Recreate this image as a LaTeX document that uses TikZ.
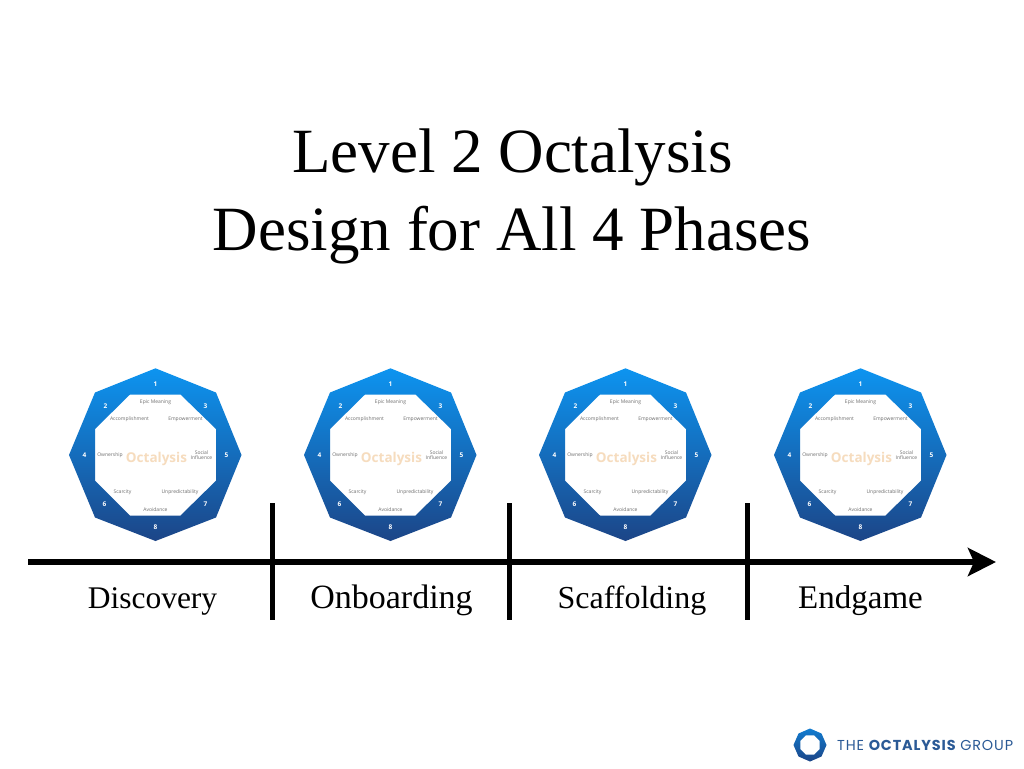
\documentclass[tikz,border=0pt]{standalone}
\usepackage{fontspec}
\setmainfont{Liberation Serif}
\newfontfamily\lblfont{Open Sans}
\newfontfamily\logofont[LetterSpace=6]{Poppins}
\usetikzlibrary{arrows.meta}
\definecolor{octtop}{HTML}{0D94F0}
\definecolor{octbot}{HTML}{1C4587}
\definecolor{lblgray}{HTML}{6E6E6E}
\definecolor{octname}{HTML}{F6DCBE}
\definecolor{logoblue}{HTML}{2B5A96}
\tikzset{
  titletext/.style={font=\fontsize{63}{63}\selectfont,anchor=base,inner sep=0pt},
  phasetext/.style={anchor=base,inner sep=0pt},
  numtext/.style={font=\lblfont\bfseries\fontsize{6.5}{7}\selectfont,text=white,inner sep=0pt},
  coretext/.style={font=\lblfont\fontsize{5}{5.6}\selectfont,text=lblgray,inner sep=0pt,align=center},
  octname/.style={font=\lblfont\bfseries\fontsize{13.5}{14}\selectfont,text=octname,inner sep=0pt},
  axisline/.style={line width=6.5pt,black},
  tickline/.style={line width=5pt,black},
}
\newcommand{\octagram}[2]{%
  \begin{scope}[shift={(#1,455)}]
    \shade[even odd rule,top color=octtop,bottom color=octbot]
      (0,-86.7) -- (60.5,-62.5) -- (86,0) -- (60.5,62.5) -- (0,86) -- (-60.5,62.5) -- (-86.5,0) -- (-60.5,-62.5) -- cycle
      (-25.5,-60.5) -- (25,-60.5) -- (60.5,-26) -- (60.5,25.7) -- (25,60.5) -- (-25.5,60.5) -- (-60.5,25.7) -- (-60.5,-26) -- cycle;
    \node[numtext] (#2n1) at (0,-71) {1};
    \node[numtext] (#2n2) at (-50,-49) {2};
    \node[numtext] (#2n3) at (50,-49) {3};
    \node[numtext] (#2n4) at (-71,0) {4};
    \node[numtext] (#2n5) at (71,0) {5};
    \node[numtext] (#2n6) at (-51,49) {6};
    \node[numtext] (#2n7) at (50,49) {7};
    \node[numtext] (#2n8) at (0,72) {8};
    \node[coretext] (#2a) at (0,-53) {Epic Meaning};
    \node[coretext] (#2b) at (-26,-36) {Accomplishment};
    \node[coretext] (#2c) at (30,-36) {Empowerment};
    \node[coretext] (#2d) at (-45.5,0) {Ownership};
    \node[coretext] (#2e) at (46,0) {Social\\Influence};
    \node[coretext] (#2f) at (-33,37) {Scarcity};
    \node[coretext] (#2g) at (24.5,37) {Unpredictability};
    \node[coretext] (#2h) at (0,55) {Avoidance};
    \node[octname] (#2o) at (1,3.5) {Octalysis};
  \end{scope}}
\begin{document}
\begin{tikzpicture}[x=1pt,y=-1pt]
\useasboundingbox (0,0) rectangle (1024,768);
\fill[white] (0,0) rectangle (1024,768);
\node[titletext] (title1) at (512.5,172) {Level 2 Octalysis};
\node[titletext] (title2) at (512,250) {Design for All 4 Phases};
\octagram{155.5}{oa}
\octagram{390.5}{ob}
\octagram{625.5}{oc}
\octagram{860.5}{od}
\coordinate (axisstart) at (28,562);
\coordinate (axisend) at (996,562);
\draw[axisline,-{Stealth[length=28pt,width=28pt,inset=6pt]}] (axisstart) -- (axisend);
\foreach \n/\x in {ta/272,tb/509,tc/747}{
  \coordinate (\n top) at (\x,503);
  \coordinate (\n bot) at (\x,620);
  \draw[tickline] (\n top) -- (\n bot);
}
\node[phasetext,font=\fontsize{31.5}{32}\selectfont] (p1) at (152.5,608) {Discovery};
\node[phasetext,font=\fontsize{34}{34}\selectfont] (p2) at (391.5,608) {Onboarding};
\node[phasetext,font=\fontsize{32}{32}\selectfont] (p3) at (632,608) {Scaffolding};
\node[phasetext,font=\fontsize{33}{33}\selectfont] (p4) at (860.5,608) {Endgame};
\begin{scope}[shift={(810,745)}]
  \shade[even odd rule,top color=octtop!70!octbot,bottom color=octbot]
    (0,-16.5) -- (11.5,-11.5) -- (16.5,0) -- (11.5,11.5) -- (0,16.5) -- (-11.5,11.5) -- (-16.5,0) -- (-11.5,-11.5) -- cycle
    (-4.2,-9.7) -- (4.2,-9.7) -- (9.7,-4.2) -- (9.7,4.2) -- (4.2,9.7) -- (-4.2,9.7) -- (-9.7,4.2) -- (-9.7,-4.2) -- cycle;
\end{scope}
\node[anchor=west,inner sep=0pt,text=logoblue,font=\logofont\fontsize{14.4}{15}\selectfont] (logo) at (837,745) {THE {\bfseries OCTALYSIS} GROUP};
\end{tikzpicture}
\end{document}
